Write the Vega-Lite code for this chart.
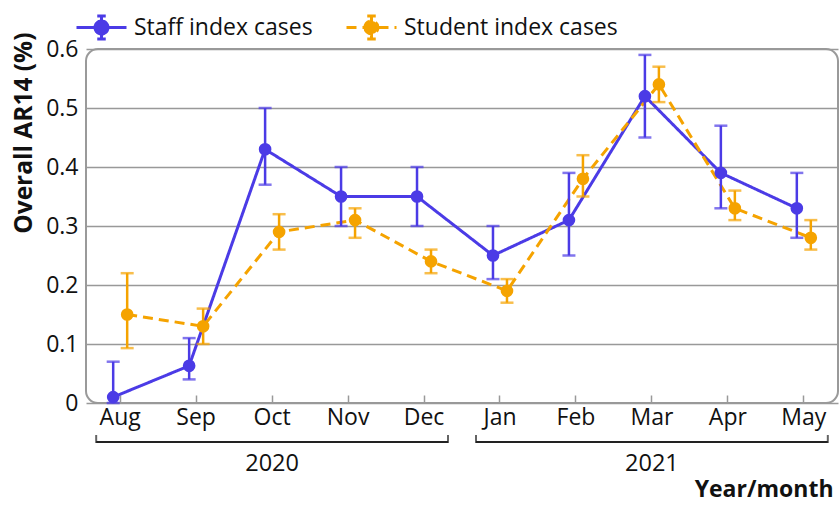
{
  "$schema": "https://vega.github.io/schema/vega-lite/v6.json",
  "autosize": {"type": "pad"},
  "padding": {"left": 10, "top": 1, "right": 0, "bottom": 0},
  "config": {
    "font": "Open Sans",
    "view": {"stroke": null},
    "concat": {"spacing": 0},
    "legend": {
      "symbolType": "M-1,0H1M0,-0.46V0.46M-0.17,-0.46H0.17M-0.17,0.46H0.17M-0.26,0A0.26,0.26 0 1,0 0.26,0A0.26,0.26 0 1,0 -0.26,0Z",
      "symbolSize": 2500,
      "symbolStrokeWidth": 3,
      "labelFontSize": 23,
      "labelColor": "#111",
      "labelOffset": 6,
      "labelLimit": 400,
      "columnPadding": 27
    }
  },
  "vconcat": [
    {
      "width": 752,
      "height": 354,
      "view": {"stroke": "#9a9a9a", "strokeWidth": 2, "cornerRadius": 12},
      "data": {
        "values": [
          {"month": "Aug", "group": "Staff index cases", "value": 0.01, "lo": 0.0, "hi": 0.07},
          {"month": "Sep", "group": "Staff index cases", "value": 0.063, "lo": 0.04, "hi": 0.11},
          {"month": "Oct", "group": "Staff index cases", "value": 0.43, "lo": 0.37, "hi": 0.5},
          {"month": "Nov", "group": "Staff index cases", "value": 0.35, "lo": 0.3, "hi": 0.4},
          {"month": "Dec", "group": "Staff index cases", "value": 0.35, "lo": 0.3, "hi": 0.4},
          {"month": "Jan", "group": "Staff index cases", "value": 0.25, "lo": 0.21, "hi": 0.3},
          {"month": "Feb", "group": "Staff index cases", "value": 0.31, "lo": 0.25, "hi": 0.39},
          {"month": "Mar", "group": "Staff index cases", "value": 0.52, "lo": 0.45, "hi": 0.59},
          {"month": "Apr", "group": "Staff index cases", "value": 0.39, "lo": 0.33, "hi": 0.47},
          {"month": "May", "group": "Staff index cases", "value": 0.33, "lo": 0.28, "hi": 0.39},
          {"month": "Aug", "group": "Student index cases", "value": 0.15, "lo": 0.093, "hi": 0.22},
          {"month": "Sep", "group": "Student index cases", "value": 0.13, "lo": 0.1, "hi": 0.16},
          {"month": "Oct", "group": "Student index cases", "value": 0.29, "lo": 0.26, "hi": 0.32},
          {"month": "Nov", "group": "Student index cases", "value": 0.31, "lo": 0.28, "hi": 0.33},
          {"month": "Dec", "group": "Student index cases", "value": 0.24, "lo": 0.22, "hi": 0.26},
          {"month": "Jan", "group": "Student index cases", "value": 0.19, "lo": 0.17, "hi": 0.21},
          {"month": "Feb", "group": "Student index cases", "value": 0.38, "lo": 0.35, "hi": 0.42},
          {"month": "Mar", "group": "Student index cases", "value": 0.54, "lo": 0.51, "hi": 0.57},
          {"month": "Apr", "group": "Student index cases", "value": 0.33, "lo": 0.31, "hi": 0.36},
          {"month": "May", "group": "Student index cases", "value": 0.28, "lo": 0.26, "hi": 0.31}
        ]
      },
      "encoding": {
        "x": {
          "field": "month", "type": "ordinal",
          "sort": ["Aug", "Sep", "Oct", "Nov", "Dec", "Jan", "Feb", "Mar", "Apr", "May"],
          "scale": {"type": "band", "paddingInner": 0.5, "paddingOuter": 0.2},
          "axis": {
            "title": null, "labelAngle": 0, "labelFontSize": 23, "labelColor": "#111",
            "domain": false, "grid": false, "tickSize": -8, "tickColor": "#999", "tickWidth": 1.5,
            "labelPadding": 11
          }
        },
        "xOffset": {"field": "group", "type": "nominal", "scale": {"type": "band", "paddingInner": 0, "paddingOuter": 0.357}},
        "y": {
          "field": "value", "type": "quantitative",
          "scale": {"domain": [0, 0.6], "nice": false},
          "axis": {
            "values": [0, 0.1, 0.2, 0.3, 0.4, 0.5, 0.6], "format": ".1~f",
            "title": "Overall AR14 (%)", "titleFontSize": 24.5, "titleFontWeight": "bold", "titleColor": "#111",
            "titleAnchor": "end", "titleY": -17, "titlePadding": 9,
            "labelFontSize": 23, "labelColor": "#111", "labelPadding": 8,
            "domain": false, "ticks": false, "gridColor": "#999", "gridWidth": 1.5
          }
        }
      },
      "layer": [
        {
          "mark": {"type": "line", "strokeWidth": 3},
          "encoding": {
            "color": {
              "field": "group", "type": "nominal", "title": null,
              "scale": {"domain": ["Staff index cases", "Student index cases"], "range": ["#4B3BE6", "#F5A300"]},
              "legend": {"orient": "none", "direction": "horizontal", "legendX": -11, "legendY": -48}
            },
            "strokeDash": {
              "field": "group", "type": "nominal", "title": null,
              "scale": {"domain": ["Staff index cases", "Student index cases"], "range": [[1, 0], [10, 6]]},
              "legend": {"orient": "none", "direction": "horizontal", "legendX": -11, "legendY": -48}
            }
          }
        },
        {
          "mark": {"type": "rule", "strokeWidth": 2.5},
          "encoding": {
            "y": {"field": "lo", "type": "quantitative"},
            "y2": {"field": "hi"},
            "color": {"field": "group", "type": "nominal", "legend": null}
          }
        },
        {
          "mark": {"type": "tick", "size": 13, "thickness": 2.5, "orient": "horizontal"},
          "encoding": {
            "y": {"field": "lo", "type": "quantitative"},
            "color": {"field": "group", "type": "nominal", "legend": null}
          }
        },
        {
          "mark": {"type": "tick", "size": 13, "thickness": 2.5, "orient": "horizontal"},
          "encoding": {
            "y": {"field": "hi", "type": "quantitative"},
            "color": {"field": "group", "type": "nominal", "legend": null}
          }
        },
        {
          "mark": {"type": "point", "filled": true, "size": 160, "opacity": 1},
          "encoding": {
            "color": {"field": "group", "type": "nominal", "legend": null}
          }
        }
      ]
    },
    {
      "width": 752,
      "height": 24,
      "data": {
        "values": [
          {"year": "2020", "start": "Aug", "mid": "Oct", "end": "Dec"},
          {"year": "2021", "start": "Jan", "mid": "Mar", "end": "May"}
        ]
      },
      "encoding": {
        "x": {
          "field": "start", "type": "ordinal",
          "scale": {"type": "band", "paddingInner": 0.5, "paddingOuter": 0.2,
                    "domain": ["Aug", "Sep", "Oct", "Nov", "Dec", "Jan", "Feb", "Mar", "Apr", "May"]},
          "axis": {
            "title": "Year/month", "titleFontSize": 23, "titleFontWeight": "bold", "titleColor": "#111",
            "titleAnchor": "end", "titleAlign": "right", "titleX": 747, "titlePadding": 24,
            "labels": false, "ticks": false, "domain": false, "grid": false
          }
        }
      },
      "layer": [
        {
          "mark": {"type": "rule", "strokeWidth": 2, "color": "#222", "xOffset": -24, "x2Offset": 24},
          "encoding": {"x2": {"field": "end"}}
        },
        {
          "mark": {"type": "tick", "orient": "vertical", "size": 8, "thickness": 2, "color": "#222", "xOffset": -24, "yOffset": -3}
        },
        {
          "mark": {"type": "tick", "orient": "vertical", "size": 8, "thickness": 2, "color": "#222", "xOffset": 24, "yOffset": -3},
          "encoding": {"x": {"field": "end", "type": "ordinal"}}
        },
        {
          "mark": {"type": "text", "fontSize": 23.5, "color": "#111", "baseline": "middle", "dy": 22},
          "encoding": {"x": {"field": "mid", "type": "ordinal"}, "text": {"field": "year"}}
        }
      ]
    }
  ]
}
